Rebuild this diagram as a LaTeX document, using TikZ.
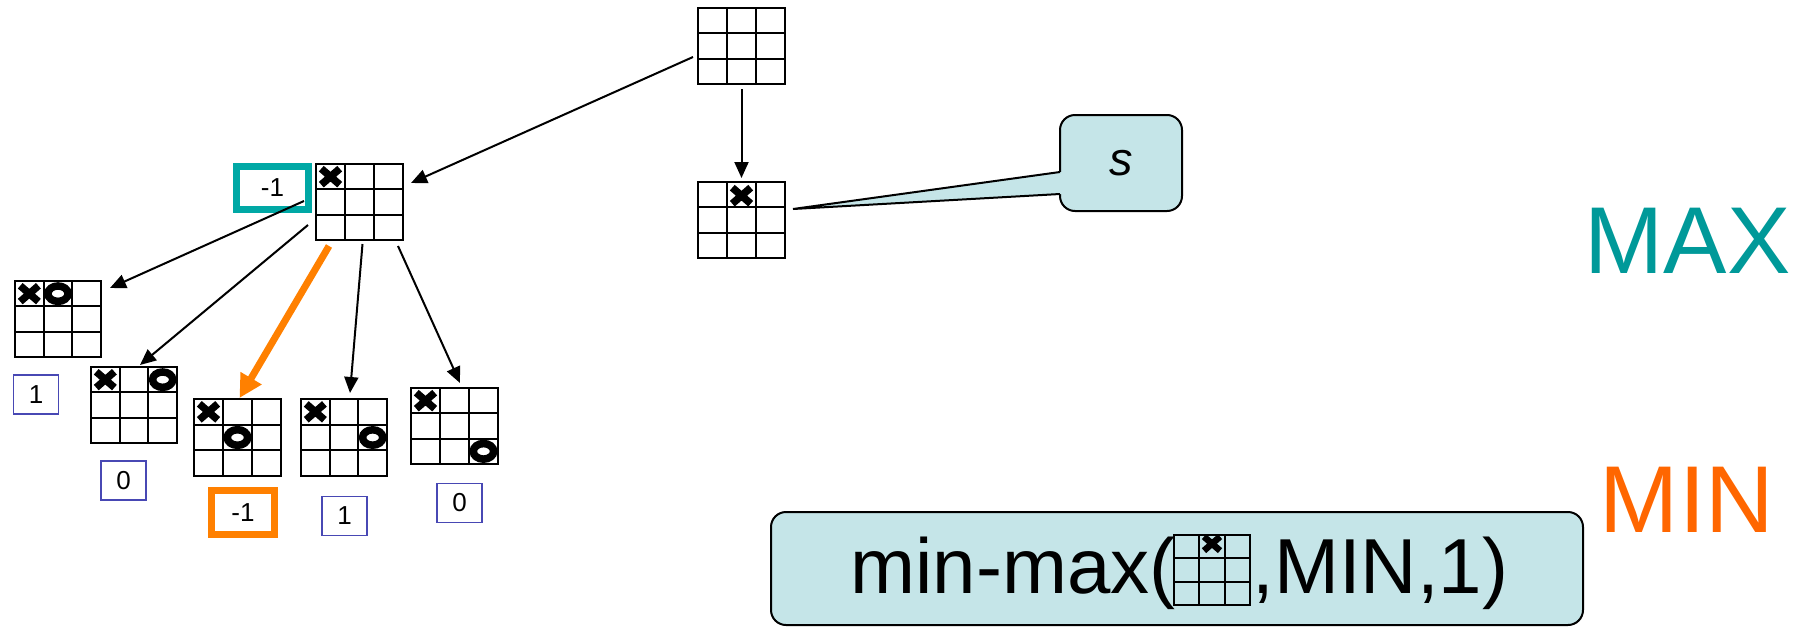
\documentclass[tikz,border=0pt]{standalone}
\usepackage{fontspec}
\setmainfont{Liberation Sans}
\usetikzlibrary{arrows.meta,calc}
\definecolor{tealtxt}{RGB}{0,153,153}
\definecolor{tealbox}{RGB}{0,168,165}
\definecolor{orng}{RGB}{255,128,0}
\definecolor{minorange}{RGB}{255,102,0}
\definecolor{callfill}{RGB}{197,229,232}
\definecolor{valblue}{RGB}{72,72,180}

\newcommand\board[5]{%
  \def\bx{#2}\def\by{#3}\def\bw{#4}\def\bh{#5}%
  \node[boardbox, minimum width=#4*0.5pt, minimum height=#5*0.5pt] (#1) at ({#2+#4/2},{#3+#5/2}) {};
  \draw[gridline] ({#2+#4/3},#3) -- ++(0,#5) ({#2+2*#4/3},#3) -- ++(0,#5)
                  (#2,{#3+#5/3}) -- ++(#4,0) (#2,{#3+2*#5/3}) -- ++(#4,0);
}
\newcommand\xm[3][0]{%
  \pgfmathsetmacro\cx{\bx+(#2-0.5)*\bw/3}%
  \pgfmathsetmacro\cy{\by+(#3-0.5)*\bh/3+#1}%
  \pgfmathsetmacro\sk{\bw/87}%
  \pgfmathsetmacro\lw{\sk*3.7}%
  \draw[xmk, line width=\lw pt] (\cx-9.2*\sk,\cy-8*\sk) -- (\cx+9.2*\sk,\cy+8*\sk)
                               (\cx-9.2*\sk,\cy+8*\sk) -- (\cx+9.2*\sk,\cy-8*\sk);
}
\newcommand\om[2]{%
  \pgfmathsetmacro\cx{\bx+(#1-0.5)*\bw/3}%
  \pgfmathsetmacro\cy{\by+(#2-0.5)*\bh/3}%
  \pgfmathsetmacro\sk{\bw/87}%
  \pgfmathsetmacro\lw{\sk*3.8}%
  \pgfmathsetmacro\rx{\sk*5.1}%
  \pgfmathsetmacro\ry{\sk*3.9}%
  \draw[line width=\lw pt] (\cx,\cy) ellipse [x radius=\rx pt, y radius=\ry pt];
}

\begin{document}
\begin{tikzpicture}[x=0.5pt,y=-0.5pt,
  boardbox/.style={draw, line width=1.25pt, inner sep=0pt, outer sep=0pt},
  gridline/.style={line width=1.15pt},
  xmk/.style={line cap=butt},
  arr/.style={line width=1pt, -{Triangle[length=8pt,width=7pt]}},
  orarr/.style={draw=orng, line width=3.5pt, -{Triangle[length=11.5pt,width=11.5pt]}},
  valbox/.style={draw=valblue, line width=0.75pt, minimum width=22.5pt, minimum height=19.5pt, inner sep=0pt, font=\fontsize{13}{15}\selectfont},
  tealbx/.style={draw=tealbox, fill=white, line width=3.5pt, minimum width=36pt, minimum height=21.5pt, inner sep=0pt, font=\fontsize{13}{15}\selectfont},
  orbx/.style={draw=orng, fill=white, line width=3.5pt, minimum width=31.5pt, minimum height=22pt, inner sep=0pt, font=\fontsize{13}{15}\selectfont},
  bigtxt/.style={inner sep=0pt, font=\fontsize{39}{44}\selectfont},
  sidetxt/.style={inner sep=0pt, anchor=base, font=\fontsize{47.5}{52}\selectfont}
]
\useasboundingbox (0,0) rectangle (1800,627);

% value boxes (drawn first so the arrow passes over)
\node[tealbx] (vc1) at (272.5,188) {-1};
\node[valbox] (vA) at (36,394.5) {1};
\node[valbox] (vB) at (123.5,480.5) {0};
\node[orbx] (vC) at (243,512.5) {-1};
\node[valbox] (vD) at (344.5,516) {1};
\node[valbox] (vE) at (459.5,503) {0};

% boards
\board{root}{698}{8}{87}{76}
\board{sb}{698}{182}{87}{76}
\xm[1]{2}{1}
\board{c1}{316}{164}{87}{76}
\xm{1}{1}
\board{bA}{15}{281}{86}{76}
\xm{1}{1}\om{2}{1}
\board{bB}{91}{367}{86}{76}
\xm{1}{1}\om{3}{1}
\board{bC}{194}{399}{87}{77}
\xm{1}{1}\om{2}{2}
\board{bD}{301}{399}{86}{77}
\xm{1}{1}\om{3}{2}
\board{bE}{411}{388}{87}{76}
\xm{1}{1}\om{3}{3}

% arrows
\draw[arr] ([shift={(-5,11)}]root.west) -- ([shift={(8,-19)}]c1.east);
\draw[arr] ([shift={(0,5)}]root.south) -- ([shift={(0,-4)}]sb.north);
\draw[arr] ([shift={(-12,-1)}]c1.west) -- ([shift={(9,7)}]bA.north east);
\draw[arr] ([shift={(-8,-15)}]c1.south west) -- ([shift={(6,-2)}]bB.north);
\draw[orarr] ([shift={(13,6)}]c1.south west) -- ([shift={(2,-1)}]bC.north);
\draw[arr] ([shift={(3,4)}]c1.south) -- ([shift={(6,-6)}]bD.north);
\draw[arr] ([shift={(-5,6)}]c1.south east) -- ([shift={(5.5,-5)}]bE.north);

% callout s
\draw[fill=callfill, line width=1pt, rounded corners=7.5pt] (1060,115) rectangle (1182,211);
\fill[callfill] (1062,172) -- (793,209) -- (1062,194) -- cycle;
\draw[line width=1pt, line join=miter] (1060,172) -- (793,209) -- (1060,194);
\node[inner sep=0pt, font=\fontsize{23.5}{26}\selectfont\itshape] (s) at (1121,163) {s};

% MAX / MIN
\node[sidetxt, text=tealtxt] (max) at (1687.5,273) {MAX};
\node[sidetxt, text=minorange] (min) at (1687,532) {MIN};

% bottom box
\node[draw, fill=callfill, line width=1pt, rounded corners=7.5pt, inner sep=0pt,
      minimum width=406pt, minimum height=56.5pt] (mm) at (1177,568.5) {};
\node[bigtxt, anchor=base east] (mmL) at (1176,593) {min-max(};
\board{mmg}{1174}{535}{76}{70}
\xm[-3]{2}{1}
\node[bigtxt, anchor=base west] (mmR) at (1252,593) {,MIN,1)};
\end{tikzpicture}
\end{document}
